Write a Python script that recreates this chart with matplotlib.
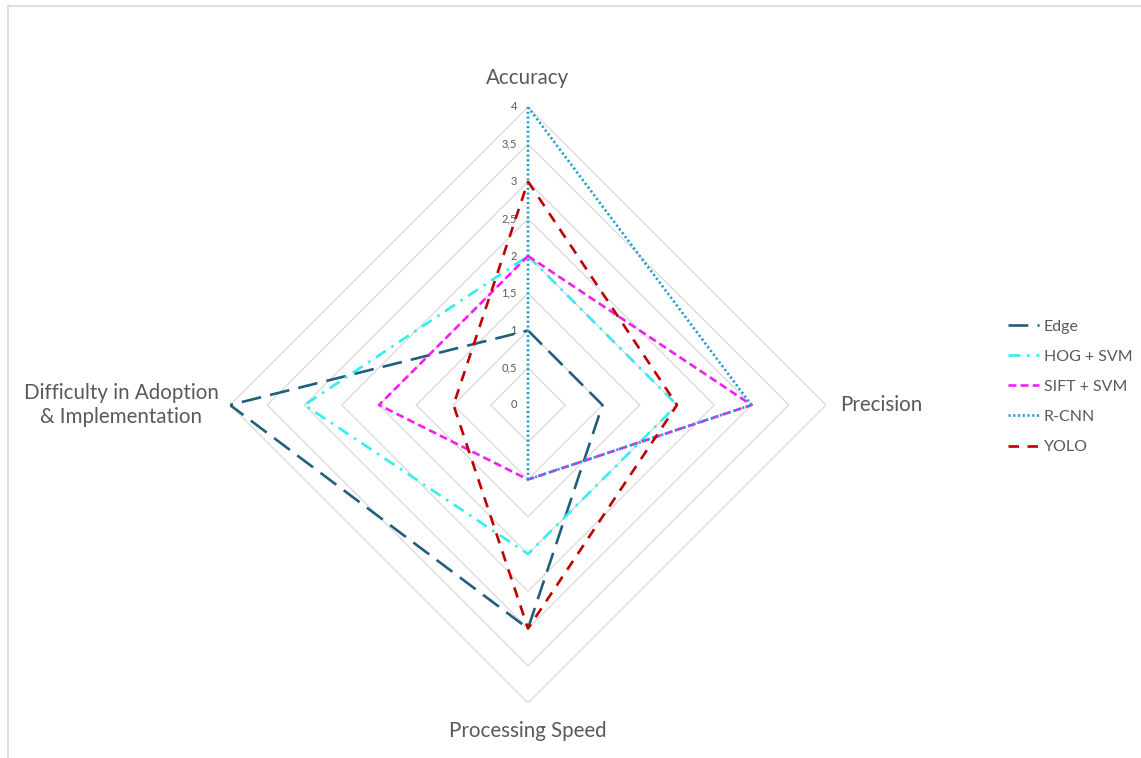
import numpy as np
import matplotlib
matplotlib.use("Agg")
import matplotlib.pyplot as plt
from matplotlib.lines import Line2D

# Criteria (clockwise from the top) and scores per method
criteria = ["Accuracy", "Precision", "Processing Speed",
            "Difficulty in Adoption\n& Implementation"]
edge = [1, 1, 3, 4]
hog_svm = [2, 2, 2, 3]
sift_svm = [2, 3, 1, 2]
rcnn = [4, 3, 1, 0]
yolo = [3, 2, 3, 1]

series_names = ["Edge", "HOG + SVM", "SIFT + SVM", "R-CNN", "YOLO"]
series_values = [edge, hog_svm, sift_svm, rcnn, yolo]
ring_levels = [0.5, 1, 1.5, 2, 2.5, 3, 3.5, 4]
tick_values = [0, 0.5, 1, 1.5, 2, 2.5, 3, 3.5, 4]
tick_labels = ["0", "0,5", "1", "1,5", "2", "2,5", "3", "3,5", "4"]

styles = [
    dict(color="#215F7C", linestyle=(0, (7.5, 3.5))),
    dict(color="#33EEEE", linestyle=(0, (4.5, 2.5, 1, 2.5))),
    dict(color="#F020F0", linestyle=(0, (3, 1.6))),
    dict(color="#1E9BCF", linestyle=(0, (0.8, 1.0))),
    dict(color="#C00000", linestyle=(0, (4, 3.2))),
]

font = ["Lato", "DejaVu Sans"]
text_color = "#595959"

W, H = 1141, 758
fig = plt.figure(figsize=(W / 100, H / 100), dpi=100)

cx, cy, rad = 528, 405, 298
ax = fig.add_axes([(cx - rad) / W, (H - cy - rad) / H, 2 * rad / W, 2 * rad / H],
                  projection="polar")
ax.set_theta_offset(np.pi / 2)
ax.set_theta_direction(-1)
ax.set_ylim(0, 4)
ax.grid(False)
ax.spines["polar"].set_visible(False)
ax.set_xticks([])
ax.set_yticks([])
ax.patch.set_alpha(0)

n = len(criteria)
angles = np.arange(n) * 2 * np.pi / n
closed = np.append(angles, angles[0])

# Polygonal grid rings
for lvl in ring_levels:
    ax.plot(closed, [lvl] * (n + 1), color="#D9D9D9", lw=0.9, zorder=1)

# Value labels along the top spoke
for v, lab in zip(tick_values, tick_labels):
    ax.annotate(lab, xy=(0, v), xytext=(-8, 0), textcoords="offset points",
                ha="right", va="center", fontsize=8, color=text_color,
                family=font, zorder=2)

# Series polygons
for name, vals, st in zip(series_names, series_values, styles):
    ax.plot(closed, list(vals) + [vals[0]], lw=1.9, label=name,
            dash_capstyle="butt", zorder=3, **st)

# Category labels
offsets = [(0, 14, "center", "bottom"), (10, 0, "left", "center"),
           (0, -13, "center", "top"), (-8, 0, "right", "center")]
for ang, lab, (dx, dy, ha, va) in zip(angles, criteria, offsets):
    ax.annotate(lab, xy=(ang, 4), xytext=(dx, dy), textcoords="offset points",
                ha=ha, va=va, fontsize=14.8, color=text_color, family=font,
                multialignment="center", linespacing=1.3)

leg = fig.legend(loc="upper left", bbox_to_anchor=(994 / W, 1 - 305 / H),
                 frameon=False, handlelength=1.9, handletextpad=0.3,
                 labelspacing=1.0, prop=dict(family=font, size=11.5))
for t in leg.get_texts():
    t.set_color(text_color)

# Chart area border (top and left edges)
border = dict(color="#D9D9D9", lw=1.2, transform=fig.transFigure)
fig.add_artist(Line2D([8 / W, 1], [1 - 6 / H, 1 - 6 / H], **border))
fig.add_artist(Line2D([8 / W, 8 / W], [0, 1 - 6 / H], **border))

fig.savefig("out.png", dpi=100)
